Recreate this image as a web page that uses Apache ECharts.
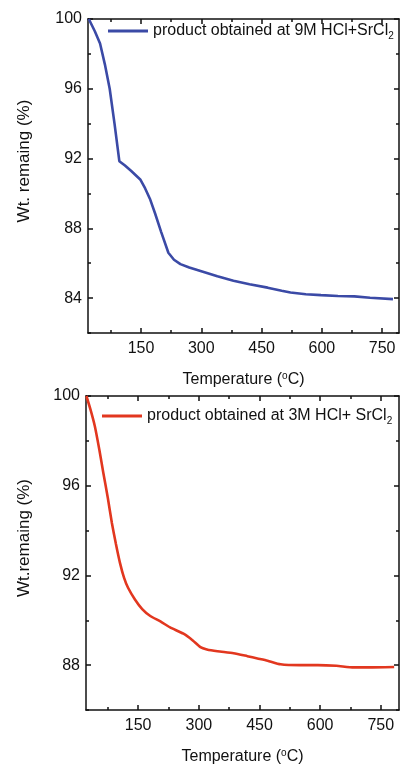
<!DOCTYPE html>
<html>
<head>
<meta charset="utf-8">
<script src="https://cdn.jsdelivr.net/npm/echarts@6/dist/echarts.min.js"></script>
<style>
  html, body { margin: 0; padding: 0; background: #fff; }
  #chart { width: 400px; height: 766px; }
</style>
</head>
<body>
<div id="chart"></div>
<script>
// top panel: 9M HCl + SrCl2
const tempA = [20, 35, 48, 60, 72, 84, 96, 110, 125, 148, 160, 172, 185, 200, 218, 232, 248, 270, 298, 340, 380, 420, 465, 500, 522, 560, 598, 640, 681, 720, 777];
const wtA = [100, 99.3, 98.6, 97.4, 96.0, 94.0, 91.85, 91.6, 91.3, 90.8, 90.3, 89.7, 88.85, 87.8, 86.6, 86.2, 85.95, 85.75, 85.55, 85.25, 85.0, 84.8, 84.6, 84.42, 84.32, 84.22, 84.17, 84.12, 84.1, 84.02, 83.94];

// bottom panel: 3M HCl + SrCl2
const tempB = [22, 32, 43, 54, 64, 75, 85, 95, 105, 115, 125, 142, 160, 180, 205, 229, 262, 285, 304, 320, 346, 386, 420, 445, 470, 502, 550, 594, 640, 683, 720, 783];
const wtB = [100, 99.4, 98.64, 97.6, 96.56, 95.45, 94.34, 93.4, 92.56, 91.9, 91.45, 90.93, 90.5, 90.19, 89.95, 89.68, 89.4, 89.1, 88.8, 88.7, 88.62, 88.53, 88.4, 88.3, 88.2, 88.04, 88.0, 88.0, 87.97, 87.9, 87.9, 87.92];

const xMajor = [150, 300, 450, 600, 750];
const xMinor = [75, 225, 375, 525, 675];
const yMajorA = [84, 88, 92, 96, 100];
const yMinorA = [82, 86, 90, 94, 98];
const yMajorB = [88, 92, 96, 100];
const yMinorB = [86, 90, 94, 98];

const nameA = 'product obtained at 9M HCl+SrCl2';
const nameB = 'product obtained at 3M HCl+ SrCl2';

const FONT = 'Liberation Sans, Arial, sans-serif';
const ink = '#111';

function pairs(xs, ys) {
  return xs.map((x, i) => [x, ys[i]]);
}

// one axis drawn as: line + major ticks (+ labels), and a second copy for minor ticks
function xAxes(grid, min, max, withName) {
  const base = { type: 'value', gridIndex: grid, min: min, max: max, splitLine: { show: false } };
  return [
    Object.assign({}, base, {
      position: 'bottom',
      axisLine: { show: true, onZero: false, lineStyle: { color: ink, width: 1.5 } },
      axisTick: { show: true, inside: true, length: 5, customValues: xMajor, lineStyle: { color: ink, width: 1.5 } },
      axisLabel: { show: true, customValues: xMajor, margin: 8, color: ink, fontSize: 16, fontFamily: FONT },
      name: withName ? 'Temperature ({sup|o}C)' : '',
      nameLocation: 'middle',
      nameGap: 38,
      nameTextStyle: {
        color: ink, fontSize: 16, fontFamily: FONT,
        rich: { sup: { fontSize: 10, verticalAlign: 'top', padding: [0, 0, 8, 0], color: ink, fontFamily: FONT } }
      }
    }),
    Object.assign({}, base, {
      position: 'bottom',
      axisLine: { show: false, onZero: false },
      axisTick: { show: true, inside: true, length: 3, customValues: xMinor, lineStyle: { color: ink, width: 1.5 } },
      axisLabel: { show: false }
    }),
    Object.assign({}, base, {
      position: 'top',
      axisLine: { show: true, onZero: false, lineStyle: { color: ink, width: 1.5 } },
      axisTick: { show: true, inside: true, length: 5, customValues: xMajor, lineStyle: { color: ink, width: 1.5 } },
      axisLabel: { show: false }
    }),
    Object.assign({}, base, {
      position: 'top',
      axisLine: { show: false, onZero: false },
      axisTick: { show: true, inside: true, length: 3, customValues: xMinor, lineStyle: { color: ink, width: 1.5 } },
      axisLabel: { show: false }
    })
  ];
}

function yAxes(grid, min, max, major, minor) {
  const base = { type: 'value', gridIndex: grid, min: min, max: max, splitLine: { show: false } };
  return [
    Object.assign({}, base, {
      position: 'left',
      axisLine: { show: true, onZero: false, lineStyle: { color: ink, width: 1.5 } },
      axisTick: { show: true, inside: true, length: 5, customValues: major, lineStyle: { color: ink, width: 1.5 } },
      axisLabel: { show: true, customValues: major, margin: 6, color: ink, fontSize: 16, fontFamily: FONT }
    }),
    Object.assign({}, base, {
      position: 'left',
      axisLine: { show: false, onZero: false },
      axisTick: { show: true, inside: true, length: 3, customValues: minor, lineStyle: { color: ink, width: 1.5 } },
      axisLabel: { show: false }
    }),
    Object.assign({}, base, {
      position: 'right',
      axisLine: { show: true, onZero: false, lineStyle: { color: ink, width: 1.5 } },
      axisTick: { show: true, inside: true, length: 5, customValues: major, lineStyle: { color: ink, width: 1.5 } },
      axisLabel: { show: false }
    }),
    Object.assign({}, base, {
      position: 'right',
      axisLine: { show: false, onZero: false },
      axisTick: { show: true, inside: true, length: 3, customValues: minor, lineStyle: { color: ink, width: 1.5 } },
      axisLabel: { show: false }
    })
  ];
}

function legendFor(name, left, top) {
  return {
    data: [name],
    left: left,
    top: top,
    padding: 0,
    icon: 'rect',
    itemWidth: 40,
    itemHeight: 3,
    itemGap: 0,
    selectedMode: false,
    formatter: n => n.replace(/2$/, '{sub|2}'),
    textStyle: {
      color: ink, fontSize: 16, fontFamily: FONT,
      rich: { sub: { fontSize: 10, verticalAlign: 'bottom', padding: [10, 0, 0, 0], color: ink, fontFamily: FONT } }
    }
  };
}

const chart = echarts.init(document.getElementById('chart'), null, { renderer: 'canvas' });

chart.setOption({
  animation: false,
  backgroundColor: '#fff',
  grid: [
    { left: 88, top: 19, right: 1, height: 314 },
    { left: 86, top: 396, right: 1, height: 315 }
  ],
  xAxis: [].concat(xAxes(0, 18, 792, true), xAxes(1, 21, 795, true)),
  yAxis: [].concat(yAxes(0, 82, 100, yMajorA, yMinorA), yAxes(1, 86, 100, yMajorB, yMinorB)),
  legend: [legendFor(nameA, 108, 23), legendFor(nameB, 102, 408)],
  graphic: [
    { type: 'text', x: 24, y: 161, rotation: Math.PI / 2,
      style: { text: 'Wt. remaing (%)', fill: ink, font: '17px ' + FONT, textAlign: 'center', textVerticalAlign: 'middle' } },
    { type: 'text', x: 24, y: 538, rotation: Math.PI / 2,
      style: { text: 'Wt.remaing (%)', fill: ink, font: '17px ' + FONT, textAlign: 'center', textVerticalAlign: 'middle' } }
  ],
  series: [
    {
      name: nameA,
      type: 'line',
      xAxisIndex: 0,
      yAxisIndex: 0,
      symbol: 'none',
      smooth: false,
      lineStyle: { color: '#3b4aa6', width: 2.6 },
      itemStyle: { color: '#3b4aa6' },
      data: pairs(tempA, wtA)
    },
    {
      name: nameB,
      type: 'line',
      xAxisIndex: 4,
      yAxisIndex: 4,
      symbol: 'none',
      smooth: 0.2,
      lineStyle: { color: '#e2371f', width: 2.6 },
      itemStyle: { color: '#e2371f' },
      data: pairs(tempB, wtB)
    }
  ]
});
</script>
</body>
</html>
